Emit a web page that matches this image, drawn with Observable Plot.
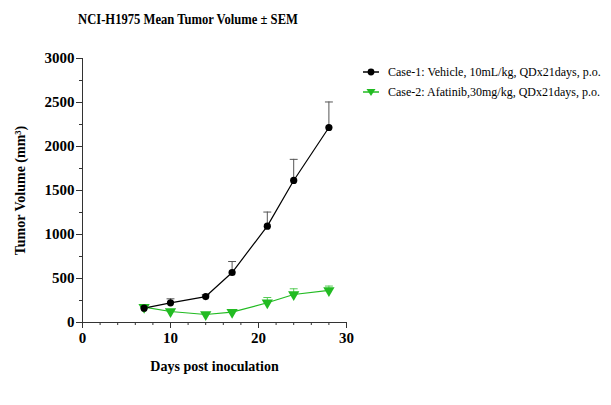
<!DOCTYPE html>
<html>
<head>
<meta charset="utf-8">
<script src="https://cdn.jsdelivr.net/npm/d3@7"></script>
<script src="https://cdn.jsdelivr.net/npm/@observablehq/plot@0.6"></script>
<style>
  html, body { margin: 0; padding: 0; background: #fff; }
  #wrap { position: relative; width: 611px; height: 405px; font-family: "Liberation Serif", "Times New Roman", serif; }
  #title { position: absolute; top: 11px; left: 0; width: 376px; text-align: center; font-weight: bold; font-size: 15px; color: #000; transform: scaleX(0.84); transform-origin: 188px 0; white-space: nowrap; }
  #legend { position: absolute; top: 62px; left: 362px; font-size: 12px; color: #000; }
  .row { display: flex; align-items: center; height: 20px; }
  .row svg { margin-right: 8px; }
</style>
</head>
<body>
<div id="wrap">
  <div id="title">NCI-H1975 Mean Tumor Volume ± SEM</div>
  <div id="legend"></div>
</div>
<script>
const days = [7, 10, 14, 17, 21, 24, 28];
const seriesNames = ["Case-1: Vehicle, 10mL/kg, QDx21days, p.o.", "Case-2: Afatinib,30mg/kg, QDx21days, p.o."];
const vehicleMean = [163, 224, 295, 568, 1095, 1614, 2216];
const vehicleSem  = [15, 45, 20, 125, 160, 240, 290];
const afatinibMean = [174, 125, 91, 117, 224, 318, 364];
const afatinibSem  = [15, 20, 15, 20, 60, 65, 50];
const yMajorTicks = [0, 500, 1000, 1500, 2000, 2500, 3000];
const yMinorTicks = [250, 750, 1250, 1750, 2250, 2750];
const xMajorTicks = [0, 10, 20, 30];
const xMinorTicks = [2, 4, 6, 8, 12, 14, 16, 18, 22, 24, 26, 28];
const xLabel = "Days post inoculation";
const yLabel = "Tumor Volume (mm³)";
const colors = ["#000000", "#22bb22"];
const errColors = ["#555555", "#55cc55"];

const data = [];
days.forEach((d, i) => {
  data.push({series: seriesNames[0], day: d, v: vehicleMean[i], sem: vehicleSem[i]});
  data.push({series: seriesNames[1], day: d, v: afatinibMean[i], sem: afatinibSem[i]});
});
const veh = data.filter(d => d.series === seriesNames[0]);
const afa = data.filter(d => d.series === seriesNames[1]);

const font = "Liberation Serif";
const chart = Plot.plot({
  width: 611,
  height: 405,
  marginLeft: 82,
  marginRight: 265,
  marginTop: 58,
  marginBottom: 83,
  style: {fontFamily: font, background: "transparent", color: "#000"},
  x: {domain: [0, 30]},
  y: {domain: [0, 3000]},
  marks: [
    Plot.axisY({ticks: yMinorTicks, tickSize: 3, tickFormat: () => "", label: null, stroke: "#333"}),
    Plot.axisY({ticks: yMajorTicks, tickSize: 6, tickPadding: 2, tickFormat: d3.format("d"), label: null, fontSize: 15, fontWeight: "bold", stroke: "#333"}),
    Plot.axisX({ticks: xMinorTicks, tickSize: 3, tickFormat: () => "", label: null, stroke: "#333"}),
    Plot.axisX({ticks: xMajorTicks, tickSize: 6, tickPadding: 4, tickFormat: d3.format("d"), label: null, fontSize: 15, fontWeight: "bold", stroke: "#333"}),
    Plot.ruleX([0], {stroke: "#333"}),
    Plot.ruleY([0], {stroke: "#333"}),
    Plot.text([xLabel], {frameAnchor: "bottom", dy: 48, fontSize: 14, fontWeight: "bold", fill: "#000"}),
    Plot.text([yLabel], {frameAnchor: "left", textAnchor: "middle", dx: -62, rotate: -90, fontSize: 14, fontWeight: "bold", fill: "#000"}),
    // error bars
    Plot.ruleX(veh, {x: "day", y1: "v", y2: d => d.v + d.sem, stroke: errColors[0], strokeWidth: 1}),
    Plot.link(veh, {x1: d => d.day - 0.45, x2: d => d.day + 0.45, y1: d => d.v + d.sem, y2: d => d.v + d.sem, stroke: errColors[0], strokeWidth: 1}),
    Plot.ruleX(afa, {x: "day", y1: "v", y2: d => d.v + d.sem, stroke: errColors[1], strokeWidth: 1}),
    Plot.link(afa, {x1: d => d.day - 0.45, x2: d => d.day + 0.45, y1: d => d.v + d.sem, y2: d => d.v + d.sem, stroke: errColors[1], strokeWidth: 1}),
    // lines
    Plot.line(afa, {x: "day", y: "v", stroke: colors[1], strokeWidth: 1.2}),
    Plot.line(veh, {x: "day", y: "v", stroke: colors[0], strokeWidth: 1.2}),
    Plot.dot(afa, {x: "day", y: "v", symbol: "triangle", rotate: 180, r: 4.2, fill: colors[1], stroke: "none"}),
    Plot.dot(veh, {x: "day", y: "v", r: 3.6, fill: colors[0], stroke: "none"})
  ]
});
chart.style.position = "absolute";
chart.style.left = "0";
chart.style.top = "0";
document.getElementById("wrap").prepend(chart);

// legend
const legend = document.getElementById("legend");
seriesNames.forEach((name, i) => {
  const row = document.createElement("div");
  row.className = "row";
  const marker = i === 0
    ? `<circle cx="9" cy="6" r="3.4" fill="${colors[0]}"/>`
    : `<path d="M4.5,3 L13.5,3 L9,10 Z" fill="${colors[1]}"/>`;
  row.innerHTML = `<svg width="18" height="12"><line x1="1" x2="17" y1="6" y2="6" stroke="${colors[i]}" stroke-width="1.5"/>${marker}</svg><span>${name}</span>`;
  legend.appendChild(row);
});
</script>
</body>
</html>
